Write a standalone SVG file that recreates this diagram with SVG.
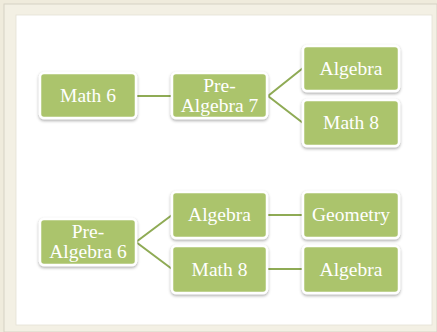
<svg xmlns="http://www.w3.org/2000/svg" width="437" height="332" viewBox="0 0 437 332">
<defs>
<filter id="sh" x="-20%" y="-20%" width="140%" height="150%">
<feDropShadow dx="0" dy="1.5" stdDeviation="1.5" flood-color="#000" flood-opacity="0.35"/>
</filter>
</defs>
<style>
.box{fill:#abc46c;stroke:#fff;stroke-width:2.5;filter:url(#sh)}
.t{font-family:"Liberation Serif","DejaVu Serif",serif;font-size:19.5px;fill:#fff;text-anchor:middle}
.c{stroke:#8fab55;stroke-width:2;fill:none}
</style>
<rect x="0" y="0" width="437" height="332" fill="#efebdc"/>
<rect x="4" y="4" width="433" height="328" fill="#f3f0e4" stroke="#d6d2c4" stroke-width="1"/>
<rect x="16" y="15" width="416" height="310" fill="#fff" stroke="#e4e0d4" stroke-width="0.8"/>
<g id="connectors">
<line class="c" x1="136" y1="96" x2="172" y2="96"/>
<polyline class="c" points="303,68 268,96 303,123"/>
<polyline class="c" points="172,215 136,242 172,269"/>
<line class="c" x1="267" y1="215" x2="303" y2="215"/>
<line class="c" x1="267" y1="269" x2="303" y2="269"/>
</g>
<g id="math6"><rect class="box" x="40" y="73" width="96" height="45" rx="4"/><text class="t" x="88" y="102">Math 6</text></g>
<g id="prealg7"><rect class="box" x="172" y="73" width="95" height="45" rx="4"/><text class="t" x="219.5" y="92">Pre-</text><text class="t" x="219.5" y="112">Algebra 7</text></g>
<g id="algebra1"><rect class="box" x="303" y="46" width="96" height="45" rx="4"/><text class="t" x="351" y="75">Algebra</text></g>
<g id="math8a"><rect class="box" x="303" y="100" width="96" height="46" rx="4"/><text class="t" x="351" y="129">Math 8</text></g>
<g id="prealg6"><rect class="box" x="40" y="219" width="96" height="46" rx="4"/><text class="t" x="88" y="238">Pre-</text><text class="t" x="88" y="258">Algebra 6</text></g>
<g id="algebra2"><rect class="box" x="172" y="192" width="95" height="46" rx="4"/><text class="t" x="219.5" y="221">Algebra</text></g>
<g id="geometry"><rect class="box" x="303" y="192" width="96" height="46" rx="4"/><text class="t" x="351" y="221">Geometry</text></g>
<g id="math8b"><rect class="box" x="172" y="246" width="95" height="47" rx="4"/><text class="t" x="219.5" y="276">Math 8</text></g>
<g id="algebra3"><rect class="box" x="303" y="246" width="96" height="47" rx="4"/><text class="t" x="351" y="276">Algebra</text></g>
</svg>
